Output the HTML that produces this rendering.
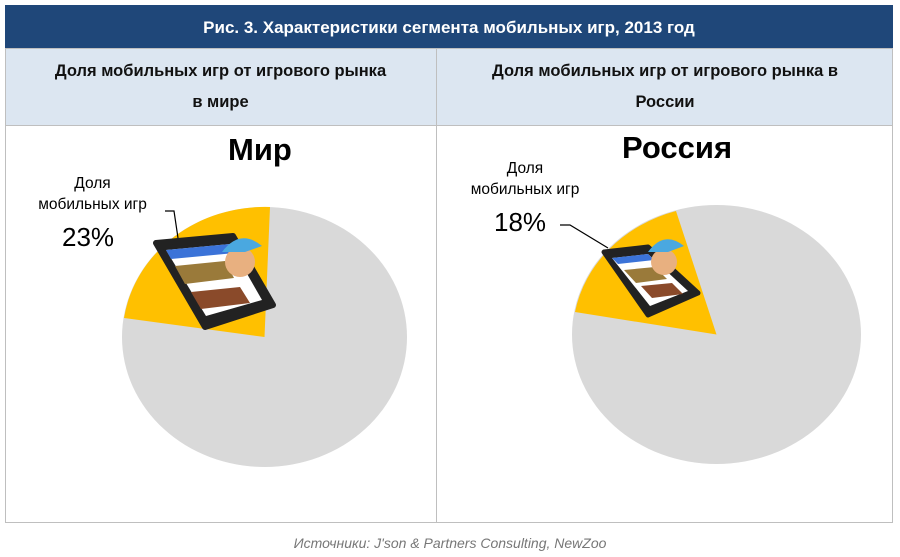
<!DOCTYPE html>
<html><head><meta charset="utf-8"><style>
body{margin:0;width:900px;height:557px;background:#fff;font-family:"Liberation Sans",sans-serif;position:relative;overflow:hidden}
.t{position:absolute;left:5px;top:5px;width:888px;height:43px;background:#1f4779;color:#fff;font-weight:bold;font-size:17px;text-align:center;line-height:45px}
.h{position:absolute;top:48px;height:77px;background:#dce6f1;font-weight:bold;font-size:16.5px;text-align:center;line-height:31px;padding-top:8px;box-sizing:border-box;color:#111}
.src{position:absolute;top:535px;left:0;width:900px;text-align:center;font-style:italic;color:#777;font-size:14px}
</style></head><body>
<div class="t">Рис. 3. Характеристики сегмента мобильных игр, 2013 год</div>
<div class="h" style="left:5px;width:431px">Доля мобильных игр от игрового рынка<br>в мире</div>
<div class="h" style="left:437px;width:456px">Доля мобильных игр от игрового рынка в<br>России</div>
<svg style="position:absolute;left:0;top:0" width="900" height="557">
<g fill="none" stroke="#bfbfbf" stroke-width="1">
<rect x="5.5" y="48.5" width="887" height="474"/>
<line x1="436.5" y1="48" x2="436.5" y2="523"/>
<line x1="5" y1="125.5" x2="893" y2="125.5"/>
</g>
<ellipse cx="264.5" cy="337" rx="142.5" ry="130" fill="#d9d9d9"/>
<path d="M264.5,337 L270,207 A142.5,130 0 0 0 124,318 Z" fill="#ffc000"/>
<ellipse cx="716.5" cy="334.5" rx="144.5" ry="129.5" fill="#d9d9d9"/>
<path d="M716.5,334.5 L676,211 A144.5,129.5 0 0 0 575,312 Z" fill="#ffc000"/>
<polygon points="156,243 233,236 273,305 205,327" fill="#222" stroke="#222" stroke-width="6" stroke-linejoin="round"/>
<polygon points="166,250 230,244 262,300 206,316" fill="#fff"/>
<polygon points="166,250 230,244 235,253 171,259" fill="#3b73d8"/>
<polygon points="175,266 225,261 234,278 185,284" fill="#9a7a3a"/>
<polygon points="191,292 240,287 250,303 201,309" fill="#8a4a2a"/>
<polygon points="604,252 648,247 698,293 648,315" fill="#222" stroke="#222" stroke-width="5" stroke-linejoin="round"/>
<polygon points="612,258 648,254 688,291 650,306" fill="#fff"/>
<polygon points="612,258 648,254 654,260 618,264" fill="#3b73d8"/>
<polygon points="624,270 655,267 667,279 636,283" fill="#9a7a3a"/>
<polygon points="641,286 672,283 683,294 652,298" fill="#8a4a2a"/>
<circle cx="240" cy="262" r="15" fill="#e8b080"/><path d="M222,252 Q240,228 262,246 L245,252 Z" fill="#4aa8e0"/>
<circle cx="664" cy="262" r="13" fill="#e8b080"/><path d="M648,252 Q664,230 684,246 L668,252 Z" fill="#4aa8e0"/>
<polyline points="165,211 174,211 178,238" fill="none" stroke="#000" stroke-width="1.2"/>
<polyline points="560,225 570,225 608,248" fill="none" stroke="#000" stroke-width="1.2"/>
</svg>
<div style="position:absolute;left:228px;top:132px;font-weight:bold;font-size:31px">Мир</div>
<div style="position:absolute;left:622px;top:130px;font-weight:bold;font-size:31px">Россия</div>
<div style="position:absolute;left:30px;top:173px;width:125px;text-align:center;font-size:15.5px;line-height:21px">Доля<br>мобильных игр</div>
<div style="position:absolute;left:62px;top:222px;font-size:26px">23%</div>
<div style="position:absolute;left:460px;top:158px;width:130px;text-align:center;font-size:15.5px;line-height:21px">Доля<br>мобильных игр</div>
<div style="position:absolute;left:494px;top:207px;font-size:26px">18%</div>
<div class="src">Источники: J'son &amp; Partners Consulting, NewZoo</div>
</body></html>
